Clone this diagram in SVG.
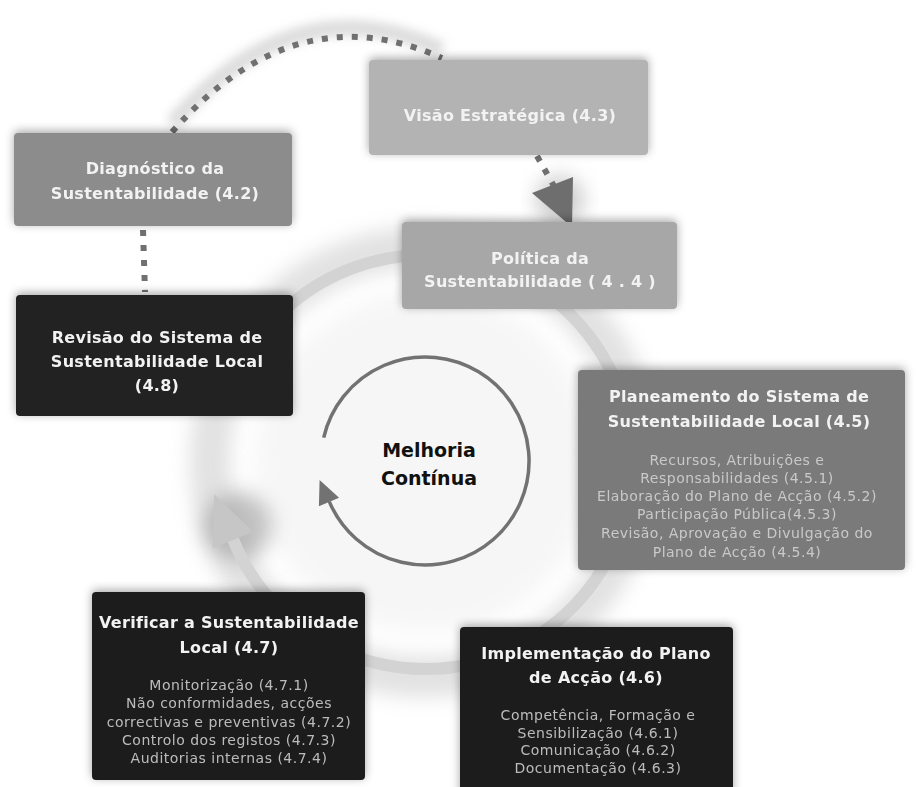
<svg xmlns="http://www.w3.org/2000/svg" width="920" height="787" viewBox="0 0 920 787">
  <defs>
    <filter id="shadow" x="-20%" y="-30%" width="140%" height="160%">
      <feGaussianBlur in="SourceAlpha" stdDeviation="5"/>
      <feOffset dx="0" dy="-2" result="b"/>
      <feFlood flood-color="#000" flood-opacity="0.35"/>
      <feComposite in2="b" operator="in"/>
      <feMerge><feMergeNode/><feMergeNode in="SourceGraphic"/></feMerge>
    </filter>
    <filter id="haze" x="-30%" y="-30%" width="160%" height="160%">
      <feGaussianBlur stdDeviation="10"/>
    </filter>
    <filter id="softHaze" x="-30%" y="-30%" width="160%" height="160%">
      <feGaussianBlur stdDeviation="5"/>
    </filter>
    <style>
      .title { font-family: "DejaVu Sans", "Liberation Sans", sans-serif; font-weight: bold; font-size: 16px; letter-spacing: 0.3px; fill: #f2f2f2; text-anchor: middle; }
      .sub { font-family: "DejaVu Sans", "Liberation Sans", sans-serif; font-size: 14px; letter-spacing: 0.5px; text-anchor: middle; }
      .subLight { fill: #c9c9c9; }
      .subDark { fill: #bcbcbc; }
      .dots { fill: none; stroke: #707070; stroke-width: 6; stroke-dasharray: 6 9; }
      .box { filter: url(#shadow); }
    </style>
  </defs>

  <rect width="920" height="787" fill="#ffffff"/>

  <!-- soft grey halo around the cycle ring -->
  <g id="backdrop">
    <circle cx="425" cy="462" r="215" fill="none" stroke="#c4c4c4" stroke-width="40" opacity="0.5" filter="url(#haze)"/>
    <circle cx="425" cy="462" r="170" fill="#f4f4f4" opacity="0.8" filter="url(#haze)"/>
    <path d="M172,124 Q295,-18 442,50" fill="none" stroke="#c8c8c8" stroke-width="16" opacity="0.6" filter="url(#softHaze)"/>
    <circle cx="238" cy="526" r="34" fill="#9a9a9a" opacity="0.6" filter="url(#haze)"/>
    <circle cx="560" cy="200" r="24" fill="#9a9a9a" opacity="0.5" filter="url(#haze)"/>
  </g>

  <g id="connectors">
    <!-- outer cycle ring with arrowhead on the left -->
    <path d="M225.1,408.4 A207,207 0 1 1 233.1,539.5" fill="none" stroke="#d3d3d3" stroke-width="12"/>
    <polygon points="214,494 253.4,531.8 212.6,548.3" fill="#c6c6c6"/>

    <!-- inner improvement circle -->
    <path d="M323.7,437.6 A104,104 0 1 1 329.3,501.6" fill="none" stroke="#727272" stroke-width="3.5"/>
    <polygon points="319.6,479.9 339.1,497.7 318.9,506.3" fill="#727272"/>

    <!-- dotted links between the first stages -->
    <path class="dots" d="M172,132 Q295,-8 442,58"/>
    <path class="dots" d="M143,230 L145,292"/>
    <path class="dots" d="M537,156 L555,188"/>
    <polygon points="532,193 573,177 572,227" fill="#6e6e6e"/>
  </g>

  <g id="diagnostico" class="box">
    <rect x="14" y="133" width="278" height="93" rx="4" fill="#8c8c8c"/>
    <text class="title" x="155" y="174">Diagnóstico da</text>
    <text class="title" x="155" y="199">Sustentabilidade (4.2)</text>
  </g>

  <g id="visao" class="box">
    <rect x="369" y="60" width="279" height="95" rx="4" fill="#b3b3b3"/>
    <text class="title" x="510" y="121">Visão Estratégica (4.3)</text>
  </g>

  <g id="politica" class="box">
    <rect x="402" y="222" width="275" height="87" rx="4" fill="#a7a7a7"/>
    <text class="title" x="540" y="264" letter-spacing="1.6">Política da</text>
    <text class="title" x="540" y="287" letter-spacing="0.6">Sustentabilidade ( 4 . 4 )</text>
  </g>

  <g id="revisao" class="box">
    <rect x="16" y="295" width="277" height="121" rx="4" fill="#202020"/>
    <text class="title" x="157" y="343">Revisão do Sistema de</text>
    <text class="title" x="157" y="367">Sustentabilidade Local</text>
    <text class="title" x="157" y="391">(4.8)</text>
  </g>

  <g id="planeamento" class="box">
    <rect x="578" y="370" width="327" height="200" rx="4" fill="#7a7a7a"/>
    <text class="title" x="739" y="402">Planeamento do Sistema de</text>
    <text class="title" x="739" y="427">Sustentabilidade Local (4.5)</text>
    <text class="sub subLight" x="737" y="465">Recursos, Atribuições e</text>
    <text class="sub subLight" x="737" y="483">Responsabilidades (4.5.1)</text>
    <text class="sub subLight" x="737" y="501">Elaboração do Plano de Acção (4.5.2)</text>
    <text class="sub subLight" x="737" y="519">Participação Pública(4.5.3)</text>
    <text class="sub subLight" x="737" y="538">Revisão, Aprovação e Divulgação do</text>
    <text class="sub subLight" x="737" y="557">Plano de Acção (4.5.4)</text>
  </g>

  <g id="implementacao" class="box">
    <rect x="460" y="627" width="273" height="175" rx="4" fill="#1e1e1e"/>
    <text class="title" x="596" y="659">Implementação do Plano</text>
    <text class="title" x="596" y="683">de Acção (4.6)</text>
    <text class="sub subDark" x="598" y="720">Competência, Formação e</text>
    <text class="sub subDark" x="598" y="738">Sensibilização (4.6.1)</text>
    <text class="sub subDark" x="598" y="755">Comunicação (4.6.2)</text>
    <text class="sub subDark" x="598" y="773">Documentação (4.6.3)</text>
  </g>

  <g id="verificar" class="box">
    <rect x="92" y="592" width="273" height="188" rx="4" fill="#1e1e1e"/>
    <text class="title" x="229" y="628">Verificar a Sustentabilidade</text>
    <text class="title" x="229" y="653">Local (4.7)</text>
    <text class="sub subDark" x="229" y="690">Monitorização (4.7.1)</text>
    <text class="sub subDark" x="229" y="708">Não conformidades, acções</text>
    <text class="sub subDark" x="229" y="727">correctivas e preventivas (4.7.2)</text>
    <text class="sub subDark" x="229" y="745">Controlo dos registos (4.7.3)</text>
    <text class="sub subDark" x="229" y="763">Auditorias internas (4.7.4)</text>
  </g>

  <g id="melhoria">
    <text x="429" y="457" font-family="DejaVu Sans, Liberation Sans, sans-serif" font-weight="bold" font-size="19" fill="#111" text-anchor="middle">Melhoria</text>
    <text x="429" y="485" font-family="DejaVu Sans, Liberation Sans, sans-serif" font-weight="bold" font-size="19" fill="#111" text-anchor="middle">Contínua</text>
  </g>
</svg>
